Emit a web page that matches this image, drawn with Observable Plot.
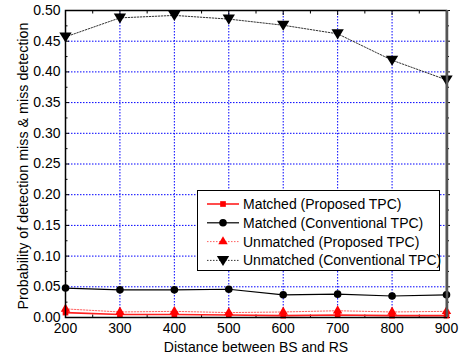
<!DOCTYPE html>
<html>
<head>
<meta charset="utf-8">
<script src="https://cdn.jsdelivr.net/npm/d3@7"></script>
<script src="https://cdn.jsdelivr.net/npm/@observablehq/plot@0.6"></script>
<style>
  body { margin: 0; background: #fff; }
  svg { font-family: "Liberation Sans", Arial, sans-serif; }
</style>
</head>
<body>
<div id="chart"></div>
<script>
const distances = [200, 300, 400, 500, 600, 700, 800, 900];
const matchedProposed = [0.008, 0.005, 0.005, 0.004, 0.003, 0.004, 0.003, 0.003];
const matchedConventional = [0.048, 0.045, 0.045, 0.046, 0.037, 0.038, 0.035, 0.037];
const unmatchedProposed = [0.014, 0.009, 0.010, 0.008, 0.009, 0.011, 0.009, 0.010];
const unmatchedConventional = [0.457, 0.488, 0.492, 0.486, 0.476, 0.462, 0.419, 0.387];
const seriesNames = [
  "Matched (Proposed TPC)",
  "Matched (Conventional TPC)",
  "Unmatched (Proposed TPC)",
  "Unmatched (Conventional TPC)"
];
const xTicks = [200, 300, 400, 500, 600, 700, 800, 900];
const yTicks = [0, 0.05, 0.10, 0.15, 0.20, 0.25, 0.30, 0.35, 0.40, 0.45, 0.50];
const xMinor = [250, 350, 450, 550, 650, 750, 850];
const yMinor = [0.025, 0.075, 0.125, 0.175, 0.225, 0.275, 0.325, 0.375, 0.425, 0.475];
const xLabel = "Distance between BS and RS";
const yLabel = "Probability of detection miss & miss detection";

const triangleDown = {
  draw(context, size) {
    const r = Math.sqrt(size / 1.3);
    context.moveTo(0, r * 1.0);
    context.lineTo(r * 1.1, -r * 0.8);
    context.lineTo(-r * 1.1, -r * 0.8);
    context.closePath();
  }
};

const styles = [
  {color: "#ff0000", dash: null, symbol: "square", r: 3.2, lineColor: "#ff2020", width: 1.6},
  {color: "#000000", dash: null, symbol: "circle", r: 3.8, lineColor: "#000000", width: 1.2},
  {color: "#ff0000", dash: "1.5,1.5", symbol: "triangle", r: 3.5, lineColor: "#ff6060", width: 1},
  {color: "#000000", dash: "1.5,1.5", symbol: triangleDown, r: 3.6, lineColor: "#333333", width: 1}
];
const values = [matchedProposed, matchedConventional, unmatchedProposed, unmatchedConventional];
const seriesData = values.map((vals, i) => distances.map((d, j) => ({x: d, y: vals[j], s: seriesNames[i]})));

const marks = [
  Plot.ruleX(xTicks.slice(1, -1), {x: d => d, stroke: "#0000ff", strokeWidth: 1, strokeDasharray: "1.5,1.5"}),
  Plot.ruleY(yTicks.slice(1, -1), {y: d => d, stroke: "#0000ff", strokeWidth: 1, strokeDasharray: "1.5,1.5"}),
  Plot.axisX(xTicks, {anchor: "bottom", tickSize: 0, tickPadding: 6, fontSize: 14, tickFormat: d => d, label: null}),
  Plot.axisY(yTicks, {anchor: "left", tickSize: 0, tickPadding: 5, fontSize: 14, tickFormat: d3.format(".2f"), label: null}),
  Plot.axisX(xTicks, {anchor: "bottom", tickSize: -4, text: null, label: null}),
  Plot.axisX(xMinor, {anchor: "bottom", tickSize: -2.5, text: null, label: null}),
  Plot.axisX(xTicks, {anchor: "top", tickSize: -4, text: null, label: null}),
  Plot.axisX(xMinor, {anchor: "top", tickSize: -2.5, text: null, label: null}),
  Plot.axisY(yTicks, {anchor: "left", tickSize: -4, text: null, label: null}),
  Plot.axisY(yMinor, {anchor: "left", tickSize: -2.5, text: null, label: null}),
  Plot.axisY(yTicks, {anchor: "right", tickSize: 3, text: null, label: null}),
  Plot.axisY(yMinor, {anchor: "right", tickSize: 2, text: null, label: null})
];
seriesData.forEach((data, i) => {
  const st = styles[i];
  marks.push(Plot.line(data, {x: "x", y: "y", stroke: st.lineColor, strokeWidth: st.width, strokeDasharray: st.dash}));
});
seriesData.forEach((data, i) => {
  const st = styles[i];
  marks.push(Plot.dot(data, {x: "x", y: "y", symbol: () => st.symbol, r: st.r, fill: st.color, stroke: "none"}));
});
marks.push(Plot.frame({stroke: "#000", strokeWidth: 1.5}));

const plot = Plot.plot({
  width: 470,
  height: 359,
  marginLeft: 65,
  marginRight: 24,
  marginTop: 10,
  marginBottom: 42,
  style: {fontFamily: "'Liberation Sans', Arial, sans-serif", fontSize: "14px", background: "#fff", color: "#000", overflow: "visible"},
  x: {domain: [200, 900]},
  y: {domain: [0, 0.5]},
  symbol: {type: "identity"},
  marks
});

const svg = d3.select(plot);
svg.append("line").attr("x1", 447).attr("x2", 447).attr("y1", 10).attr("y2", 317)
  .attr("stroke", "#555").attr("stroke-width", 2.5);

svg.append("text").attr("x", 256).attr("y", 352).attr("text-anchor", "middle")
  .attr("font-size", 14).attr("fill", "#000").text(xLabel);
svg.append("text").attr("transform", "translate(28,166) rotate(-90)").attr("text-anchor", "middle")
  .attr("font-size", 14.3).attr("fill", "#000").text(yLabel);

const lg = svg.append("g").attr("text-anchor", "start");
lg.append("rect").attr("x", 197.5).attr("y", 190.5).attr("width", 242).attr("height", 80)
  .attr("fill", "#fff").attr("stroke", "#000").attr("stroke-width", 1);
seriesNames.forEach((name, i) => {
  const st = styles[i];
  const y = 204 + i * 18.8;
  lg.append("line").attr("x1", 207).attr("x2", 239).attr("y1", y).attr("y2", y)
    .attr("stroke", st.lineColor).attr("stroke-width", st.width).attr("stroke-dasharray", st.dash);
  const type = typeof st.symbol === "string"
    ? {square: d3.symbolSquare, circle: d3.symbolCircle, triangle: d3.symbolTriangle}[st.symbol]
    : st.symbol;
  lg.append("path").attr("d", d3.symbol().type(type).size(st.r * st.r * Math.PI)())
    .attr("transform", `translate(223,${y})`).attr("fill", st.color);
  lg.append("text").attr("x", 243).attr("y", y + 5).attr("text-anchor", "start")
    .attr("font-size", 14).attr("fill", "#000").text(name);
});

document.getElementById("chart").appendChild(plot);
</script>
</body>
</html>
